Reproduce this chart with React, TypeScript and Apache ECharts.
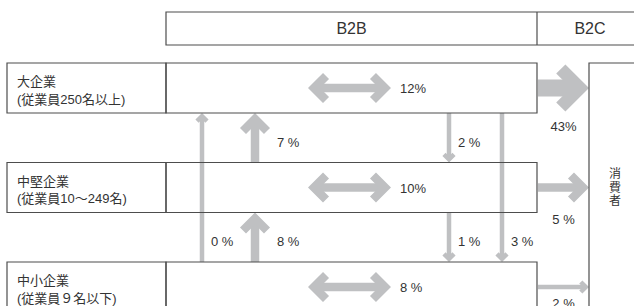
import React, { useEffect, useRef } from "react";
import * as echarts from "echarts";

// ---- data ----
const ROWS = ["大企業", "中堅企業", "中小企業"];
const ROW_NOTES = ["(従業員250名以上)", "(従業員10～249名)", "(従業員９名以下)"];
const CHANNELS = ["B2B", "B2C"];
const CONSUMER = ["消", "費", "者"];
const B2B_WITHIN = [12, 10, 8];
const B2C_SHARE = [43, 5, 2];
const UP_FROM = [1, 2, 2];
const UP_TO = [0, 1, 0];
const UP_VALUE = [7, 8, 0];
const DOWN_FROM = [0, 1, 0];
const DOWN_TO = [1, 2, 2];
const DOWN_VALUE = [2, 1, 3];

// ---- layout (x: hidden axis units, y: row index units) ----
const X_LABEL = 7;
const X_MAIN = 166;
const X_SPLIT = 537;
const X_CONSUMER = 589;
const X_END = 660;
const UP_X = [255, 255, 202];
const DOWN_X = [449, 449, 502];
const B2B_L = 308;
const B2B_R = 391;
const HEADER_ROW = -0.598;
const BOX_HALF = 25;
const HEADER_HALF = 16.5;

const FONT = '"Liberation Sans", "Noto Sans CJK JP", sans-serif';
const ARROW = "#bfc0c2";
const LINE = "#4d4d4d";
const TEXT = "#333333";

const fmt = (v: number) => (v >= 10 ? `${v}%` : `${v} %`);

function spec(v: number) {
  if (v >= 40) return { w: 17, aw: 13, a: 19, lg: 0, dy: 38.5 };
  if (v >= 5) return { w: 8.5, aw: 8.5, a: 12, lg: 22, dy: 32 };
  return { w: 4.5, aw: 4.5, a: 5, lg: 9, dy: 16.5 };
}

function arrow(
  x1: number, y1: number, x2: number, y2: number,
  w: number, aw: number, a: number, double: boolean
) {
  const L = Math.hypot(x2 - x1, y2 - y1);
  const dx = (x2 - x1) / L;
  const dy = (y2 - y1) / L;
  const nx = -dy;
  const ny = dx;
  const m = aw * Math.SQRT1_2;
  const v2 = [x2 - m * dx, y2 - m * dy];
  const v1 = double ? [x1 + m * dx, y1 + m * dy] : [x1, y1];
  const chev = (v: number[], sx: number, sy: number) => ({
    type: "polyline",
    shape: {
      points: [
        [v[0] - a * sx + a * nx, v[1] - a * sy + a * ny],
        [v[0], v[1]],
        [v[0] - a * sx - a * nx, v[1] - a * sy - a * ny],
      ],
    },
    style: { stroke: ARROW, lineWidth: aw, fill: "none", lineJoin: "miter" },
  });
  const els: any[] = [
    {
      type: "line",
      shape: { x1: v1[0], y1: v1[1], x2: v2[0], y2: v2[1] },
      style: { stroke: ARROW, lineWidth: w },
    },
    chev(v2, dx, dy),
  ];
  if (double) els.push(chev(v1, -dx, -dy));
  return els;
}

const txt = (text: string, x: number, y: number, size: number, align = "left") => ({
  type: "text",
  style: {
    text,
    x,
    y,
    fill: TEXT,
    fontSize: size,
    fontFamily: FONT,
    textAlign: align,
    textVerticalAlign: "middle",
  },
});

const rect = (x1: number, y1: number, x2: number, y2: number) => ({
  type: "rect",
  shape: { x: x1, y: y1, width: x2 - x1, height: y2 - y1 },
  style: { fill: "none", stroke: LINE, lineWidth: 1.2 },
});

export default function App() {
  const ref = useRef<HTMLDivElement>(null);
  useEffect(() => {
    if (!ref.current) return;
    const chart = echarts.init(ref.current, undefined, { renderer: "svg" });
    const pxPerRow = 99.5;
    const yMin = -88 / pxPerRow;
    const yMax = yMin + 306 / pxPerRow;

    const verticalData = [
      ...UP_VALUE.map((v, i) => [UP_X[i], UP_FROM[i], UP_TO[i], v]),
      ...DOWN_VALUE.map((v, i) => [DOWN_X[i], DOWN_FROM[i], DOWN_TO[i], v]),
    ];

    chart.setOption({
      animation: false,
      backgroundColor: "#ffffff",
      grid: { left: 0, right: 0, top: 0, bottom: 0 },
      xAxis: { type: "value", min: 0, max: 634, show: false },
      yAxis: { type: "value", min: yMin, max: yMax, inverse: true, show: false },
      series: [
        {
          type: "custom",
          silent: true,
          z: 3,
          data: [[0, HEADER_ROW]],
          renderItem: (_p: any, api: any) => {
            const h = api.coord([X_MAIN, api.value(1)]);
            const split = api.coord([X_SPLIT, 0])[0];
            const end = api.coord([X_END, 0])[0];
            const cons = api.coord([X_CONSUMER, 0]);
            const r0 = api.coord([0, 0])[1];
            const r1 = api.coord([0, 1])[1];
            return {
              type: "group",
              children: [
                rect(h[0], h[1] - HEADER_HALF, end, h[1] + HEADER_HALF),
                {
                  type: "line",
                  shape: { x1: split, y1: h[1] - HEADER_HALF, x2: split, y2: h[1] + HEADER_HALF },
                  style: { stroke: LINE, lineWidth: 1.2 },
                },
                txt(CHANNELS[0], (h[0] + split) / 2, h[1] + 0.5, 16, "center"),
                txt(CHANNELS[1], (split + 643) / 2, h[1] + 0.5, 16, "center"),
                rect(cons[0], r0 - BOX_HALF, end, 420),
                ...CONSUMER.map((ch, k) => txt(ch, 615, r1 + (k - 1) * 13.5, 12, "center")),
              ],
            };
          },
        },
        {
          type: "custom",
          silent: true,
          z: 3,
          data: ROWS.map((_, i) => [0, i]),
          renderItem: (_p: any, api: any) => {
            const i = api.value(1);
            const c = api.coord([X_LABEL, i]);
            const m = api.coord([X_MAIN, i])[0];
            const s = api.coord([X_SPLIT, i])[0];
            return {
              type: "group",
              children: [
                rect(c[0], c[1] - BOX_HALF, m, c[1] + BOX_HALF),
                rect(m, c[1] - BOX_HALF, s, c[1] + BOX_HALF),
                txt(ROWS[i], c[0] + 10, c[1] - 6.5, 13),
                txt(ROW_NOTES[i], c[0] + 10, c[1] + 11, 13),
              ],
            };
          },
        },
        {
          type: "custom",
          silent: true,
          z: 2,
          data: verticalData,
          renderItem: (_p: any, api: any) => {
            const x = api.value(0);
            const from = api.value(1);
            const to = api.value(2);
            const v = api.value(3);
            const dir = to > from ? 1 : -1;
            const pF = api.coord([x, from]);
            const pT = api.coord([x, to]);
            const s = spec(v);
            const ly = api.coord([x, Math.max(from, to) - 0.5])[1] + 4.5;
            return {
              type: "group",
              children: [
                ...arrow(pF[0], pF[1] + dir * BOX_HALF, pT[0], pT[1] - dir * BOX_HALF, s.w, s.aw, s.a, false),
                txt(fmt(v), pF[0] + s.lg, ly, 13),
              ],
            };
          },
        },
        {
          type: "custom",
          silent: true,
          z: 2,
          data: B2B_WITHIN.map((v, i) => [i, v]),
          renderItem: (_p: any, api: any) => {
            const row = api.value(0);
            const v = api.value(1);
            const l = api.coord([B2B_L, row]);
            const r = api.coord([B2B_R, row]);
            const s = spec(v);
            return {
              type: "group",
              children: [
                ...arrow(l[0], l[1], r[0], r[1], s.w, s.aw, s.a, true),
                txt(fmt(v), r[0] + 9, r[1] + 0.5, 13),
              ],
            };
          },
        },
        {
          type: "custom",
          silent: true,
          z: 2,
          data: B2C_SHARE.map((v, i) => [i, v]),
          renderItem: (_p: any, api: any) => {
            const row = api.value(0);
            const v = api.value(1);
            const l = api.coord([X_SPLIT + 1, row]);
            const r = api.coord([X_CONSUMER, row]);
            const s = spec(v);
            return {
              type: "group",
              children: [
                ...arrow(l[0], l[1], r[0], r[1], s.w, s.aw, s.a, false),
                txt(fmt(v), (l[0] + r[0]) / 2, l[1] + s.dy, 13, "center"),
              ],
            };
          },
        },
      ],
    });
    return () => chart.dispose();
  }, []);
  return (
    <div
      ref={ref}
      style={{ position: "fixed", left: 0, top: 0, width: 634, height: 306, background: "#fff" }}
    />
  );
}
